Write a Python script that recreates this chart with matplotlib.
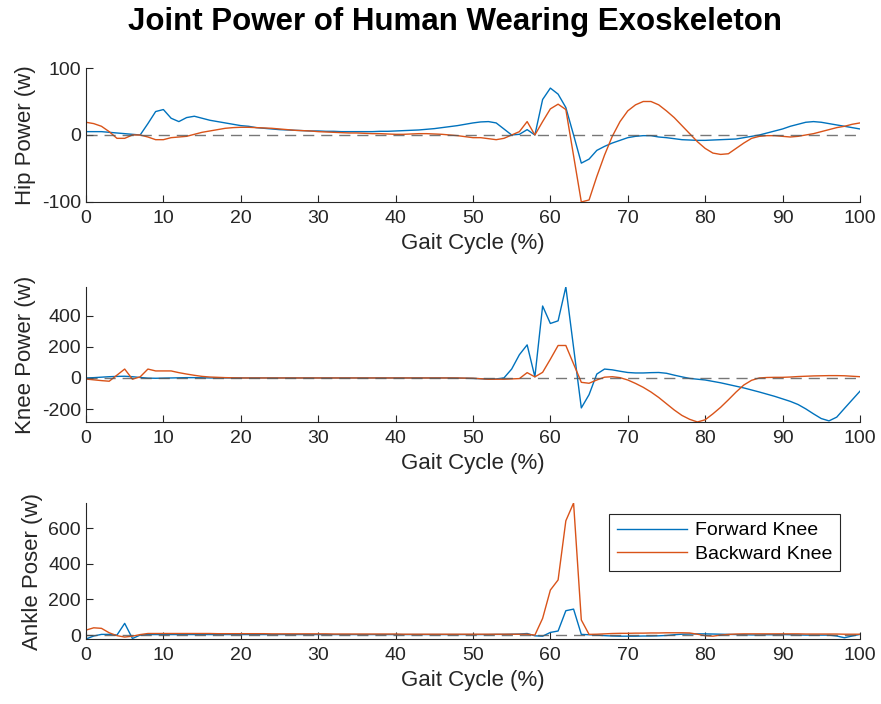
import numpy as np
import matplotlib
matplotlib.use("Agg")
import matplotlib.pyplot as plt

plt.rcParams['font.family'] = ['Liberation Sans', 'DejaVu Sans']
plt.rcParams['axes.unicode_minus'] = False

# gait cycle 0..100 %
gait = np.arange(0, 101)

hip_fwd = [5, 5, 5, 4, 3, 2, 1, 0, 17, 35,
           38, 25, 20, 26, 28, 25, 22, 20, 18, 16,
           14, 13, 11, 10, 9, 8, 7.5, 7, 6.5, 6,
           6, 5.5, 5.5, 5, 5, 5, 5, 5, 5.5, 5.5,
           6, 6.5, 7, 7.5, 8.5, 9.5, 11, 12.5, 14, 16,
           18, 19.5, 20, 18, 9, 0, 1, 8, 0, 53,
           70, 61, 41, 0, -42, -36, -23, -17, -12, -8,
           -4, -2, -1, -1, -3, -4, -5.5, -7, -7.5, -8,
           -8, -7.5, -7, -6.5, -6, -4, -2, 0, 3, 6,
           9, 13, 16, 19, 20, 19, 17, 15, 13, 11,
           9]
hip_bwd = [19, 17, 13, 5, -5, -5, 0, 0, -3, -7,
           -7, -4, -3, -2, 1, 4, 6, 8, 10, 11,
           11.5, 11.5, 11, 10.5, 10, 9, 8, 7, 6.5, 6,
           5, 4.5, 4, 3.5, 3, 3, 2.5, 2, 2, 1.5,
           1, 1, 1.5, 2, 2, 1.5, 1, 0, -1, -2.5,
           -4, -4, -5.5, -7, -5, 0, 5, 20, 0, 20,
           39, 46, 38, -31, -100, -97, -62, -30, -2, 20,
           36, 45, 50, 50, 45, 36, 26, 14, 2, -10,
           -20, -27, -29, -28, -20, -12, -5, -2, -1, -1,
           -2, -3, -2, 0, 2, 5, 8, 11, 13, 16,
           18]

knee_fwd = [0, 2, 5, 8, 10, 11, 8, 3, -1, -2,
            -1, 0, 1, 2, 2, 1, 0, 0, 0, 0,
            0, 0, 0, 0, 0, 0, 0, 0, 0, 0,
            0, 0, 0, 0, 0, 0, 0, 0, 0, 0,
            0, 0, 0, 0, 0, 0, 0, 0, -1, -2,
            -3, -5, -8, -6, 0, 57, 149, 212, 7, 461,
            349, 366, 583, 195, -192, -107, 25, 57, 52, 43,
            35, 32, 32, 34, 35, 30, 18, 7, -3, -8,
            -13, -22, -31, -42, -53, -64, -77, -90, -104, -118,
            -134, -150, -170, -198, -230, -260, -275, -251, -195, -140,
            -85]
knee_bwd = [-7, -12, -17, -21, 18, 57, -8, 7, 57, 45,
            45, 45, 34, 25, 17, 10, 6, 4, 2, 1,
            0, 0, 0, 0, 0, 0, 0, 0, 0, 0,
            0, 0, 0, 0, 0, 0, 0, 0, 0, 0,
            0, 0, 0, 0, 0, 0, 0, 0, 0, -1,
            -2, -5, -8, -8, -8, -6, -4, 34, 7, 36,
            120, 208, 208, 90, -28, -34, -13, 5, 8, 2,
            -13, -35, -60, -90, -125, -165, -205, -240, -265, -282,
            -268, -230, -188, -140, -90, -45, -15, 0, 3, 4,
            4, 6, 9, 11, 13, 14, 15, 15, 14, 11,
            8]

ankle_fwd = [-22, -5, 4, 4, 0, 66, -19, 0, 3, 3,
             3, 3, 3, 3, 3, 3, 3, 3, 3, 3,
             3, 3, 3, 3, 3, 3, 3, 3, 3, 3,
             3, 3, 3, 3, 3, 3, 3, 3, 3, 3,
             3, 3, 3, 3, 3, 3, 3, 3, 3, 3,
             3, 3, 3, 4, 4, 5, 6, 9, -4, -6,
             15, 23, 137, 146, 4, 2, 0, -3, -5, -6,
             -6, -6, -5, -5, -4, -2, 2, 5, 6, 7,
             7, 6, 5, 4, 3, 2, 1, 1, 2, 2,
             3, 2, 1, 0, 0, 0, 0, -5, -15, -5,
             4]
ankle_bwd = [28, 41, 38, 13, -3, -11, -6, 3, 9, 9,
             9, 9, 9, 9, 9, 9, 9, 8, 8, 8,
             8, 8, 8, 8, 7, 7, 7, 7, 7, 7,
             7, 7, 6, 6, 6, 6, 6, 6, 6, 6,
             6, 5, 5, 5, 5, 5, 5, 5, 5, 5,
             5, 5, 5, 5, 5, 5, 5, 5, 0, 94,
             253, 310, 642, 742, 85, 4, 5, 7, 9, 10,
             10, 11, 11, 12, 12, 13, 13, 13, 12, 5,
             -3, -6, 0, 4, 6, 7, 7, 7, 7, 7,
             7, 7, 7, 6, 6, 6, 6, 6, 5, 5,
             5]

ylabels = ["Hip Power (w)", "Knee Power (w)", "Ankle Poser (w)"]
yticks = [[-100, 0, 100], [-200, 0, 200, 400], [0, 200, 400, 600]]
series = [(hip_fwd, hip_bwd), (knee_fwd, knee_bwd), (ankle_fwd, ankle_bwd)]

blue = '#0072BD'
orange = '#D95319'
axcol = '#262626'

fig = plt.figure(figsize=(8.81, 7.04), dpi=100)
positions = [[0.0976, 0.7131, 0.8785, 0.1903],
             [0.0976, 0.4006, 0.8785, 0.1918],
             [0.0976, 0.0923, 0.8785, 0.1932]]

for i in range(3):
  ax = fig.add_axes(positions[i])
  fwd, bwd = series[i]
  ax.plot(gait, fwd, color=blue, lw=1.0, label='Forward Knee')
  ax.plot(gait, bwd, color=orange, lw=1.0, label='Backward Knee')
  ax.axhline(0, color='#555555', lw=1.0, ls=(0, (8, 5)), alpha=0.8)
  ax.set_xlim(0, 100)
  if i == 0:
    ax.set_ylim(-100, 100)
  else:
    lo = min(min(fwd), min(bwd))
    hi = max(max(fwd), max(bwd))
    ax.set_ylim(lo, hi)
  ax.set_xticks(range(0, 101, 10))
  ax.set_yticks(yticks[i])
  ax.tick_params(direction='in', length=5, labelsize=14, colors=axcol, width=0.8)
  ax.tick_params(axis='x', pad=6)
  for s in ['top', 'right']:
    ax.spines[s].set_visible(False)
  for s in ['left', 'bottom']:
    ax.spines[s].set_color(axcol)
    ax.spines[s].set_linewidth(0.8)
  ax.set_xlabel('Gait Cycle (%)', fontsize=16, color=axcol, labelpad=4)
  ax.set_ylabel(ylabels[i], fontsize=16, color=axcol, labelpad=4)
  if i == 2:
    leg = ax.legend(loc='upper right', bbox_to_anchor=(0.974, 0.919), fontsize=14,
                    fancybox=False, edgecolor=axcol, framealpha=1, borderaxespad=0,
                    handlelength=3.6, handletextpad=0.4, borderpad=0.4, labelspacing=0.3)
    leg.get_frame().set_linewidth(0.8)

fig.text(0.516, 0.969, 'Joint Power of Human Wearing Exoskeleton', ha='center', va='center',
         fontsize=22.5, fontweight='bold')

fig.savefig('out.png', dpi=100)
